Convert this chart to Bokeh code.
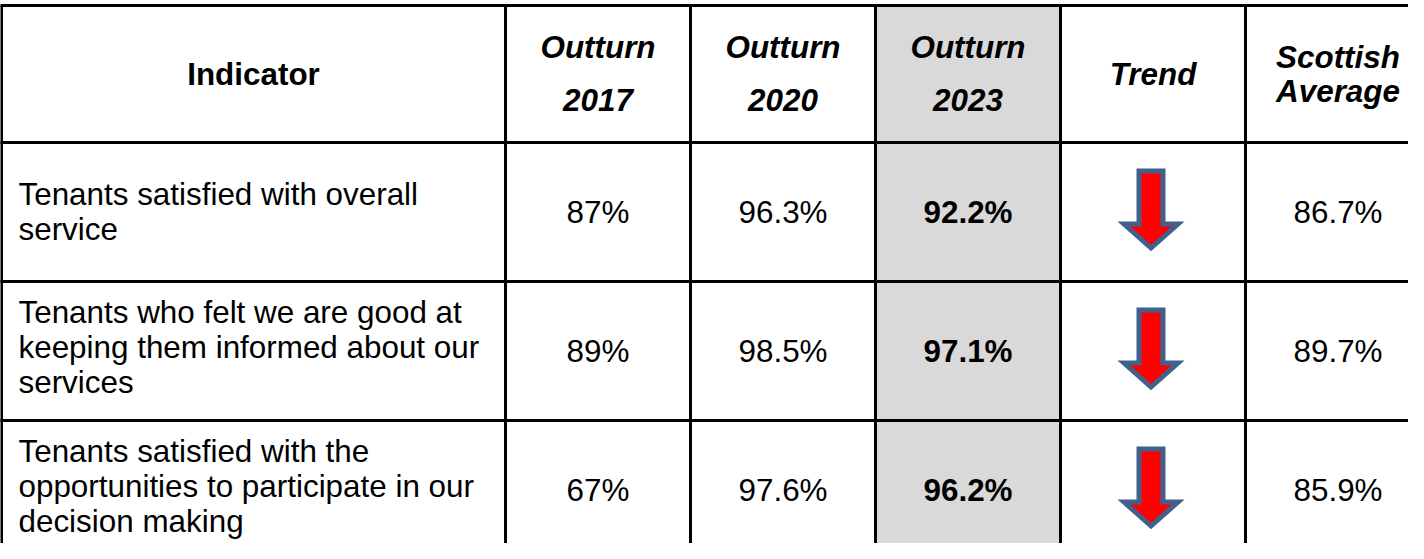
from bokeh.plotting import figure
from bokeh.models import Range1d
from bokeh.core.properties import value
from bokeh.embed import file_html
from bokeh.resources import INLINE

# ---- data ----
headers = ["Indicator", "Outturn\n2017", "Outturn\n2020", "Outturn\n2023", "Trend", "Scottish\nAverage"]
indicators = [
    "Tenants satisfied with overall\nservice",
    "Tenants who felt we are good at\nkeeping them informed about our\nservices",
    "Tenants satisfied with the\nopportunities to participate in our\ndecision making",
]
outturn_2017 = [87, 89, 67]
outturn_2020 = [96.3, 98.5, 97.6]
outturn_2023 = [92.2, 97.1, 96.2]
trend = ["down", "down", "down"]
scottish_average = [86.7, 89.7, 85.9]

# ---- layout (page pixel coordinates) ----
col_edges = [9, 513, 698, 883, 1068, 1253, 1438]
row_edges = [13, 150, 289, 428, 567]
FONT = "Liberation Sans"
BODY_SIZE = "31.4px"
HEAD_SIZE = "31.4px"
LINE_H = 35
CAP_HALF = 11      # half of the cap height
TALL_SHIFT = -4    # 3-line cells sit slightly above centre
Y_FIX = 11         # renderer places the baseline this much below the given y

W, H = 1408, 543
p = figure(width=W, height=H, output_backend="svg", toolbar_location=None,
           x_range=Range1d(8, 8 + W), y_range=Range1d(8 + H, 8),
           min_border=0, x_axis_location=None, y_axis_location=None)
p.xgrid.visible = False
p.ygrid.visible = False
p.outline_line_color = None
p.background_fill_color = "white"
p.border_fill_color = "white"

# highlighted column (Outturn 2023)
p.quad(left=[col_edges[3]], right=[col_edges[4]], top=[row_edges[0]], bottom=[row_edges[-1]],
       fill_color="#D9D9D9", line_color=None)

def fmt(v):
    return f"{v:g}%"

def col_center(i):
    return (col_edges[i] + col_edges[i + 1]) / 2

def body_center(r):
    return (row_edges[r + 1] + row_edges[r + 2]) / 2

def txt(xs, baselines, texts, size, style, align):
    p.text(x=xs, y=[b - Y_FIX for b in baselines], text=texts,
           text_font=value(FONT), text_font_size=size, text_font_style=style,
           text_align=align, text_baseline="alphabetic", text_color="black")

# header texts (baselines)
header_baselines = {
    0: [93], 1: [66, 118], 2: [66, 118], 3: [66, 118], 4: [93], 5: [76, 110]
}
for i, h in enumerate(headers):
    lines = h.split("\n")
    txt([col_center(i)] * len(lines), header_baselines[i], lines, HEAD_SIZE,
        "bold" if i == 0 else "bold italic", "center")

# indicator texts (left aligned, vertically centred)
for r, ind in enumerate(indicators):
    lines = ind.split("\n")
    n = len(lines)
    first = body_center(r) + CAP_HALF - (n - 1) / 2 * LINE_H + (TALL_SHIFT if n >= 3 else 0)
    txt([col_edges[0] + 17] * n, [first + k * LINE_H for k in range(n)], lines,
        BODY_SIZE, "normal", "left")

# value columns
body_base = [body_center(r) + CAP_HALF for r in range(len(indicators))]
for ci, vals, style in [(1, outturn_2017, "normal"), (2, outturn_2020, "normal"),
                        (3, outturn_2023, "bold"), (5, scottish_average, "normal")]:
    txt([col_center(ci)] * len(vals), body_base, [fmt(v) for v in vals], BODY_SIZE, style, "center")

# trend arrows
xs, ys = [], []
for r, t in enumerate(trend):
    cx = col_center(4) - 2
    cy = body_center(r) - 1
    d = 1 if t == "down" else -1
    shaft, wing, top, wy, tip = 12, 27, 40, 13, 37
    xs.append([cx - shaft, cx + shaft, cx + shaft, cx + wing, cx, cx - wing, cx - shaft])
    ys.append([cy - d * top, cy - d * top, cy + d * wy, cy + d * wy, cy + d * tip, cy + d * wy, cy + d * wy])
p.patches(xs, ys, fill_color="#FF0000", line_color="#41618C", line_width=5, line_join="miter")

# grid lines
x0s, x1s, y0s, y1s = [], [], [], []
for y in row_edges:
    x0s.append(col_edges[0] - 1.5); x1s.append(col_edges[-1] + 1.5); y0s.append(y); y1s.append(y)
for x in col_edges:
    x0s.append(x); x1s.append(x); y0s.append(row_edges[0]); y1s.append(row_edges[-1])
p.segment(x0=x0s, y0=y0s, x1=x1s, y1=y1s, line_color="black", line_width=3)

open("out.html", "w").write(file_html(p, INLINE))
